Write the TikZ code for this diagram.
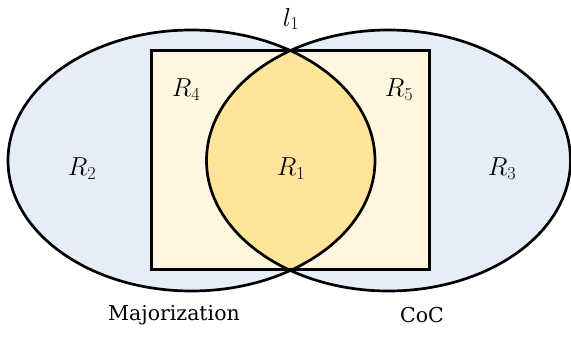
\RequirePackage{fix-cm}
\documentclass[tikz,border=0pt]{standalone}
\usepackage{fontspec}
\setmainfont{DejaVu Serif}
\definecolor{setblue}{HTML}{E5EEF8}
\definecolor{rectcream}{HTML}{FFF6E0}
\definecolor{lensgold}{HTML}{FFE599}
\tikzset{
  outline/.style={draw=black, line width=2.7pt},
  mlabel/.style={font=\fontsize{26}{30}\selectfont, inner sep=0pt},
  tlabel/.style={font=\fontsize{20.5}{24}\selectfont, inner sep=0pt},
}
\begin{document}
\begin{tikzpicture}[x=1pt,y=-1pt]
\useasboundingbox (0,0) rectangle (571,337);
% ellipse fills
\fill[setblue] (191.5,160.5) ellipse [x radius=183.5, y radius=130.5];
\fill[setblue] (388.5,160.5) ellipse [x radius=182, y radius=130.5];
% rectangle fill
\fill[rectcream] (151.3,50.7) rectangle (429.7,269.7);
% lens fill
\begin{scope}
  \clip (191.5,160.5) ellipse [x radius=183.5, y radius=130.5];
  \fill[lensgold] (388.5,160.5) ellipse [x radius=182, y radius=130.5];
\end{scope}
% outlines
\draw[outline] (151.3,50.7) rectangle (429.7,269.7);
\draw[outline] (191.5,160.5) ellipse [x radius=183.5, y radius=130.5];
\draw[outline] (388.5,160.5) ellipse [x radius=182, y radius=130.5];
% labels
\node[mlabel] (l1) at (291,19) {$l_1$};
\node[mlabel] (r4) at (186,90) {$R_4$};
\node[mlabel] (r5) at (399,90) {$R_5$};
\node[mlabel] (r2) at (82,169) {$R_2$};
\node[mlabel] (r1) at (291,169) {$R_1$};
\node[mlabel] (r3) at (502,169) {$R_3$};
\node[tlabel] (maj) at (174,315) {Majorization};
\node[tlabel] (coc) at (422,315) {CoC};
\end{tikzpicture}
\end{document}
